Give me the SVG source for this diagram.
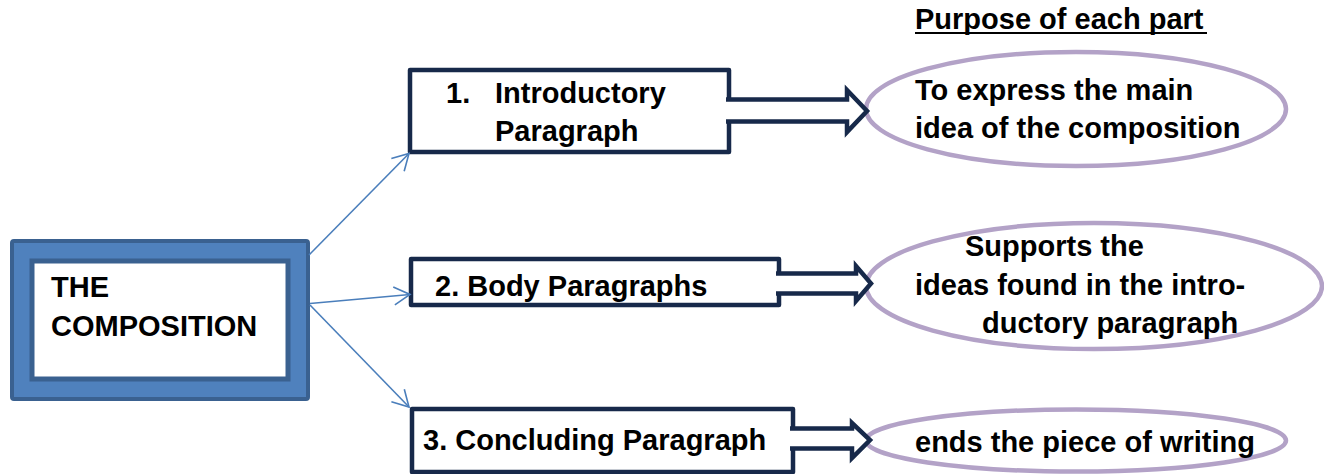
<svg xmlns="http://www.w3.org/2000/svg" width="1324" height="474" viewBox="0 0 1324 474">
<style>
  text { font-family: "Liberation Sans", Arial, sans-serif; font-weight: bold; font-size: 29px; fill: #000; }
  .box { fill: #fff; stroke: #17294A; stroke-width: 4.5; stroke-linejoin: round; }
  .block { fill: #fff; stroke: #17294A; stroke-width: 4.5; stroke-linejoin: miter; }
  .oval { fill: #fff; stroke: #B3A2C7; stroke-width: 4.5; }
  .thin { fill: none; stroke: #4A7EBB; stroke-width: 1.6; }
</style>
<defs>
  <marker id="open" viewBox="0 0 20 20" refX="18" refY="10" markerWidth="20" markerHeight="20" markerUnits="userSpaceOnUse" orient="auto">
    <path d="M2,1 L18,10 L2,19" fill="none" stroke="#4A7EBB" stroke-width="1.6"/>
  </marker>
</defs>
<rect width="1324" height="474" fill="#fff"/>

<g id="heading">
  <text x="915" y="29">Purpose of each part</text>
  <line x1="915" y1="33" x2="1207" y2="33" stroke="#000" stroke-width="2.2"/>
</g>

<g id="composition">
  <rect x="12" y="241" width="296" height="158" rx="2" fill="#4F81BD" stroke="#3A6190" stroke-width="4"/>
  <rect x="32" y="261" width="256" height="118" fill="#fff" stroke="#3A6190" stroke-width="5"/>
  <text x="51" y="297">THE</text>
  <text x="51" y="336">COMPOSITION</text>
</g>

<g id="intro">
  <rect class="box" x="410" y="70" width="319" height="82"/>
  <text x="446" y="103">1.</text>
  <text x="495" y="103">Introductory</text>
  <text x="495" y="141">Paragraph</text>
</g>

<g id="body">
  <rect class="box" x="411" y="259" width="368" height="46"/>
  <text x="435" y="296">2. Body Paragraphs</text>
</g>

<g id="conclude">
  <rect class="box" x="412" y="409" width="381" height="63"/>
  <text x="423" y="450">3. Concluding Paragraph</text>
</g>

<g id="purpose1">
  <ellipse class="oval" cx="1076" cy="109" rx="210" ry="57"/>
  <text x="915" y="100">To express the main</text>
  <text x="915" y="138">idea of the composition</text>
</g>

<g id="purpose2">
  <ellipse class="oval" cx="1094" cy="286" rx="228" ry="63"/>
  <text x="965" y="256">Supports the</text>
  <text x="915" y="295">ideas found in the intro-</text>
  <text x="982" y="333">ductory paragraph</text>
</g>

<g id="purpose3">
  <ellipse class="oval" cx="1076" cy="440.5" rx="210" ry="31"/>
  <text x="915" y="452">ends the piece of writing</text>
</g>

<g id="connectors">
  <line class="thin" x1="309" y1="255" x2="409" y2="153.5" marker-end="url(#open)"/>
  <line class="thin" x1="310" y1="303.5" x2="410" y2="294.5" marker-end="url(#open)"/>
  <line class="thin" x1="310" y1="305" x2="409" y2="407" marker-end="url(#open)"/>
  <path class="block" d="M726,99.5 H847 V90 L867,111 L847,132 V121.5 H726"/>
  <path class="block" d="M776,273.5 H856 V266 L871,283.5 L856,301 V293.5 H776"/>
  <path class="block" d="M790,428.5 H852 V423 L870,440 L852,458 V448.5 H790"/>
</g>
</svg>
